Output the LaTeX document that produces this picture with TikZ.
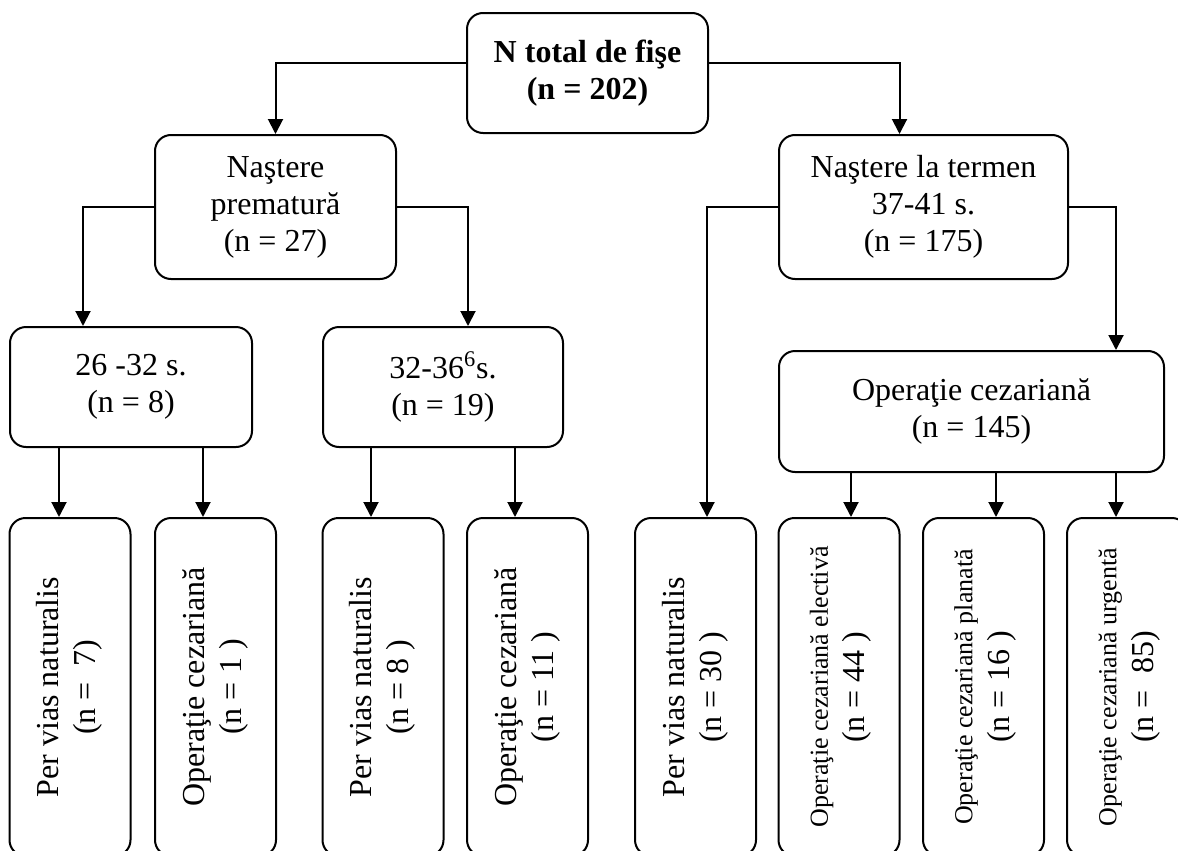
\documentclass[tikz,border=0pt]{standalone}
\usepackage{fontspec}
\setmainfont{Liberation Serif}
\usetikzlibrary{arrows.meta}

\newcommand{\vlabel}[2]{\rotatebox{90}{\begin{tabular}{@{}c@{}}#1\\#2\end{tabular}}}
\newcommand{\smallop}[1]{{\fontsize{13}{15}\selectfont #1}}

\tikzset{
    % Box styles
    box/.style={draw, line width=1pt, rounded corners=8pt, align=center,
        inner sep=0pt, font=\fontsize{16}{18.5}\selectfont},
    tall box/.style={box, minimum width=60.5pt, minimum height=169pt},
    % Connector styles
    arrow/.style={line width=1pt, -{Triangle[length=7.5pt,width=7.5pt]}},
}

\begin{document}
\begin{tikzpicture}[x=0.5pt, y=-0.5pt]
    \useasboundingbox (0,0) rectangle (1178,851);
    \clip (0,0) rectangle (1178,851);

    % Top
    \node[box, minimum width=120.5pt, minimum height=60pt,
        font=\fontsize{16}{18.5}\selectfont\bfseries] (total) at (587.5,73)
        {N total de fişe\\(n = 202)};

    % Second level
    \node[box, minimum width=120.5pt, minimum height=72pt] (prem) at (275.5,207)
        {Naştere\\prematură\\(n = 27)};
    \node[box, minimum width=144.5pt, minimum height=72pt] (term) at (923.5,207)
        {Naştere la termen\\37-41 s.\\(n = 175)};

    % Third level
    \node[box, minimum width=121pt, minimum height=60pt] (early) at (131,387)
        {26 -32 s.\\(n = 8)};
    \node[box, minimum width=120pt, minimum height=60pt] (late) at (443,387)
        {32-36\textsuperscript{6}s.\\(n = 19)};
    \node[box, minimum width=192.5pt, minimum height=60.5pt] (ces) at (971.5,411.5)
        {Operaţie cezariană\\(n = 145)};

    % Bottom row
    \node[tall box] (evn) at (70,687) {\vlabel{Per vias naturalis}{(n = \ 7)}};
    \node[tall box] (eces) at (215.5,687) {\vlabel{Operaţie cezariană}{(n = 1 )}};
    \node[tall box] (lvn) at (383,687) {\vlabel{Per vias naturalis}{(n = 8 )}};
    \node[tall box] (lces) at (527.5,687) {\vlabel{Operaţie cezariană}{(n = 11 )}};
    \node[tall box] (tvn) at (695.5,687) {\vlabel{Per vias naturalis}{(n = 30 )}};
    \node[tall box] (celect) at (839,687) {\vlabel{\smallop{Operaţie cezariană electivă}}{(n = 44 )}};
    \node[tall box] (cplan) at (983.5,687) {\vlabel{\smallop{Operaţie cezariană planată}}{(n = 16 )}};
    \node[tall box] (curg) at (1127.5,687) {\vlabel{\smallop{Operaţie cezariană urgentă}}{(n = \ 85)}};

    % Connectors
    \coordinate (tin) at ([xshift=-12pt]term.north);
    \coordinate (ein) at ([xshift=-24pt]early.north);
    \coordinate (lin) at ([xshift=12.5pt]late.north);
    \coordinate (vin) at ([xshift=5.75pt]tvn.north);
    \coordinate (cin) at ([xshift=72.25pt]ces.north);
    \draw[arrow] ([yshift=5pt]total.west) -| (prem.north);
    \draw[arrow] ([yshift=5pt]total.east) -| (tin);
    \draw[arrow] (prem.west) -| (ein);
    \draw[arrow] (prem.east) -| (lin);
    \draw[arrow] (term.west) -| (vin);
    \draw[arrow] (term.east) -| (cin);

    \foreach \parent/\child/\dx in {early/evn/-5.5pt, early/eces/-6.25pt,
        late/lvn/-6pt, late/lces/-6.25pt, ces/celect/6pt, ces/cplan/6.25pt,
        ces/curg/-5.75pt} {
        \coordinate (tip) at ([xshift=\dx]\child.north);
        \draw[arrow] (\parent.south -| tip) -- (tip);
    }
\end{tikzpicture}
\end{document}
